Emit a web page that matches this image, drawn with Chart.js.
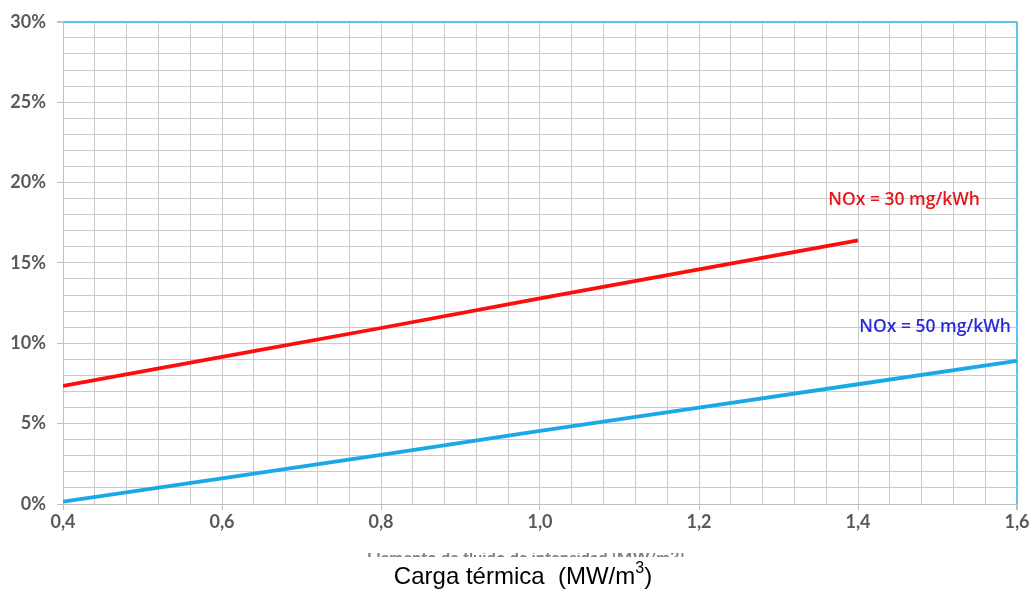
<!DOCTYPE html>
<html>
<head>
<meta charset="utf-8">
<script src="https://cdn.jsdelivr.net/npm/chart.js@4/dist/chart.umd.min.js"></script>
<style>
  html, body { margin: 0; padding: 0; background: #fff; }
  #wrap { position: relative; width: 1034px; height: 592px; overflow: hidden; }
  #chart { position: absolute; left: 0; top: 0; }
  #cutTitle {
    position: absolute; left: 367px; top: 553px; width: 330px; height: 4px;
    overflow: hidden; font: bold 16.5px Lato, sans-serif; color: #7f7f7f;
    line-height: 16px; white-space: nowrap;
  }
  #cutTitle span { position: relative; top: -3px; }
  #axisTitle {
    position: absolute; left: 0; width: 1046px; top: 561px; text-align: center;
    font: 24px "Liberation Sans", Arial, sans-serif; color: #000; white-space: nowrap;
  }
  #axisTitle sup { font-size: 16px; position: relative; top: -2px; }
</style>
</head>
<body>
<div id="wrap">
  <canvas id="chart" width="1034" height="592"></canvas>
  <div id="cutTitle"><span>Elemento de fluido de intensidad [MW/m3]</span></div>
  <div id="axisTitle">Carga térmica&nbsp; (MW/m<sup>3</sup>)</div>
</div>
<script>
// carga térmica (MW/m3) vs. porcentaje
const loadRed = [0.4, 0.6, 0.8, 1.0, 1.2, 1.4];
const valuesRed = [7.35, 9.15, 10.95, 12.8, 14.6, 16.4];
const loadBlue = [0.4, 0.6, 0.8, 1.0, 1.2, 1.4, 1.6];
const valuesBlue = [0.15, 1.6, 3.05, 4.55, 6.0, 7.45, 8.9];

const xTickLabels = ['0,4', '0,6', '0,8', '1,0', '1,2', '1,4', '1,6'];
const yTickLabels = ['0%', '5%', '10%', '15%', '20%', '25%', '30%'];

const seriesLabels = ['NOx = 30 mg/kWh', 'NOx = 50 mg/kWh'];

const gridGray = '#cacaca';
const borderBlue = '#5ec3ea';
const tickFont = { family: 'Lato', size: 18, weight: 'bold' };

function toPoints(xs, ys) {
  return xs.map((x, i) => ({ x, y: ys[i] }));
}

function xMajorIndex(value) {
  const hundredths = Math.round(value * 100);
  return hundredths % 20 === 0 ? (hundredths - 40) / 20 : -1;
}

function yMajorIndex(value) {
  const v = Math.round(value);
  return v % 5 === 0 ? v / 5 : -1;
}

// text labels placed in data space
const seriesTags = [
  { text: seriesLabels[0], x: 1.458, y: 18.9, color: '#e8151b' },
  { text: seriesLabels[1], x: 1.497, y: 11.0, color: '#2a2ad8' }
];

const tagPlugin = {
  id: 'seriesTags',
  afterDatasetsDraw(chart) {
    const { ctx, scales } = chart;
    ctx.save();
    ctx.font = '600 17.5px "Open Sans", sans-serif';
    ctx.textAlign = 'center';
    ctx.textBaseline = 'middle';
    seriesTags.forEach((tag) => {
      ctx.fillStyle = tag.color;
      ctx.fillText(tag.text, scales.x.getPixelForValue(tag.x), scales.y.getPixelForValue(tag.y));
    });
    ctx.restore();
  }
};

new Chart(document.getElementById('chart'), {
  type: 'line',
  data: {
    datasets: [
      {
        label: seriesLabels[0],
        data: toPoints(loadRed, valuesRed),
        borderColor: '#ff0d0d',
        borderWidth: 3.8,
        pointRadius: 0,
        tension: 0
      },
      {
        label: seriesLabels[1],
        data: toPoints(loadBlue, valuesBlue),
        borderColor: '#1aa9e6',
        borderWidth: 3.8,
        pointRadius: 0,
        tension: 0
      }
    ]
  },
  options: {
    responsive: false,
    animation: false,
    layout: { padding: { top: 16, right: 17, left: 0, bottom: 0 } },
    plugins: { legend: { display: false }, tooltip: { enabled: false } },
    scales: {
      x: {
        type: 'linear',
        min: 0.4,
        max: 1.6,
        afterFit(scale) { scale.height = 88; },
        border: { color: '#bfbfbf', width: 1 },
        grid: {
          color: (c) => (Math.abs(c.tick.value - 1.6) < 1e-6 ? borderBlue : gridGray),
          lineWidth: (c) => (Math.abs(c.tick.value - 1.6) < 1e-6 ? 2 : 1),
          tickLength: 6,
          tickColor: (c) => (xMajorIndex(c.tick.value) >= 0 ? '#bfbfbf' : 'rgba(0,0,0,0)')
        },
        ticks: {
          stepSize: 0.04,
          autoSkip: false,
          maxRotation: 0,
          padding: 1,
          color: '#595959',
          font: tickFont,
          callback: (value) => {
            const i = xMajorIndex(value);
            return i >= 0 ? xTickLabels[i] : '';
          }
        }
      },
      y: {
        min: 0,
        max: 30,
        afterFit(scale) { scale.width = 63; },
        border: { color: '#bfbfbf', width: 1 },
        grid: {
          color: (c) => (c.tick.value === 30 ? borderBlue : gridGray),
          lineWidth: (c) => (c.tick.value === 30 ? 2 : 1),
          tickLength: 6,
          tickColor: (c) => (yMajorIndex(c.tick.value) >= 0 ? '#bfbfbf' : 'rgba(0,0,0,0)')
        },
        ticks: {
          stepSize: 1,
          autoSkip: false,
          padding: 11,
          color: '#595959',
          font: tickFont,
          callback: (value) => {
            const i = yMajorIndex(value);
            return i >= 0 ? yTickLabels[i] : '';
          }
        }
      }
    }
  },
  plugins: [tagPlugin]
});
</script>
</body>
</html>
